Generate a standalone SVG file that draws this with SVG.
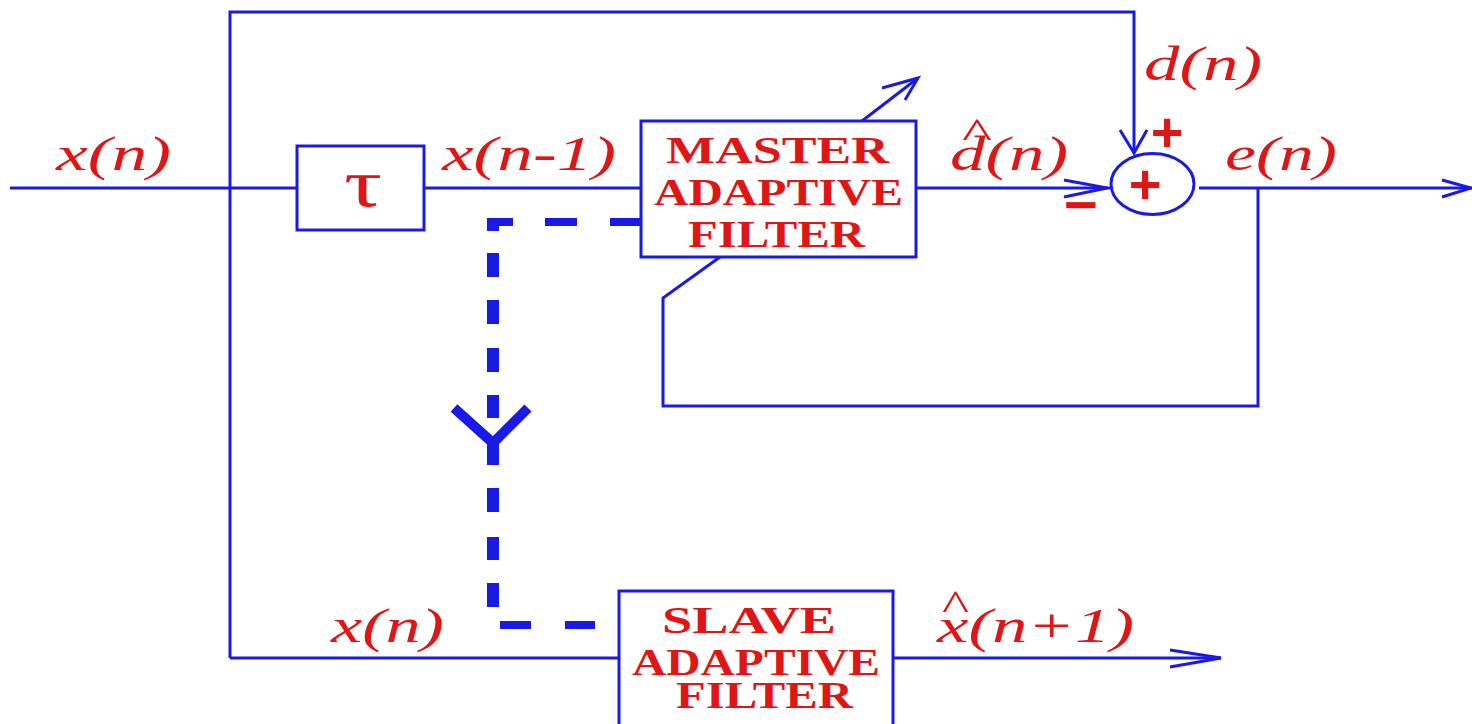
<svg xmlns="http://www.w3.org/2000/svg" width="1472" height="724" viewBox="0 0 1472 724">
<style>
.ln{fill:none;stroke:#1a1ae6;stroke-width:3;stroke-linejoin:miter}
.bx{fill:#fff;stroke:#1a1ae6;stroke-width:3}
.dh{stroke:#1a1ae6;stroke-width:8;fill:none}
.dv{stroke:#1a1ae6;stroke-width:12;fill:none}
.lab{font-family:"Liberation Serif","Times New Roman",serif;font-style:italic;font-size:48px;fill:#e01515}
.hat{font-family:"Liberation Serif","Times New Roman",serif;font-size:44px;fill:#e01515}
.bt{font-family:"Liberation Serif","Times New Roman",serif;font-weight:bold;font-size:37px;fill:#e01515}
.sg{font-family:"Liberation Sans",Arial,sans-serif;font-weight:bold;font-size:56px;fill:#e01515}
</style>
<rect width="1472" height="724" fill="#fff"/>
<g id="connectors">
  <polyline class="ln" points="10,188 297,188"/>
  <polyline class="ln" points="424,188 641,188"/>
  <polyline class="ln" points="230,658 230,12 1134,12 1134,153"/>
  <polyline class="ln" points="1120,130 1134,153 1147,130"/>
  <polyline class="ln" points="230,658 619,658"/>
  <polyline class="ln" points="893,658 1221,658"/>
  <polyline class="ln" points="1170,650 1221,658 1170,667"/>
  <polyline class="ln" points="916,188 1110,188"/>
  <polyline class="ln" points="1064,180 1107,188 1064,197"/>
  <polyline class="ln" points="1199,188 1472,188"/>
  <polyline class="ln" points="1442,180 1471,188 1442,197"/>
  <polyline class="ln" points="1258,188 1258,406 663,406 663,298 720,257"/>
  <polyline class="ln" points="862,121 918,78"/>
  <polyline class="ln" points="882,88 918,78 905,100"/>
  <g id="dashed">
    <line class="dh" x1="610" y1="222" x2="641" y2="222"/>
    <line class="dh" x1="545" y1="222" x2="577" y2="222"/>
    <line class="dh" x1="487" y1="222" x2="513" y2="222"/>
    <line class="dv" x1="493" y1="218" x2="493" y2="231"/>
    <line class="dv" x1="493" y1="253" x2="493" y2="277"/>
    <line class="dv" x1="493" y1="300" x2="493" y2="324"/>
    <line class="dv" x1="493" y1="348" x2="493" y2="372"/>
    <line class="dv" x1="493" y1="395" x2="493" y2="418"/>
    <polyline points="454,408 493,443 528,408" style="fill:none;stroke:#1a1ae6;stroke-width:10"/>
    <line class="dv" x1="493" y1="440" x2="493" y2="465"/>
    <line class="dv" x1="493" y1="488" x2="493" y2="512"/>
    <line class="dv" x1="493" y1="537" x2="493" y2="560"/>
    <line class="dv" x1="493" y1="583" x2="493" y2="607"/>
    <line class="dh" x1="500" y1="625" x2="531" y2="625"/>
    <line class="dh" x1="565" y1="625" x2="595" y2="625"/>
  </g>
</g>
<g id="delay">
  <rect class="bx" x="297" y="146" width="127" height="84"/>
  <text x="344" y="206" style="font-family:'Liberation Serif','Times New Roman',serif;font-size:68px;fill:#e01515" textLength="38" lengthAdjust="spacingAndGlyphs">τ</text>
</g>
<g id="master">
  <rect class="bx" x="641" y="121" width="275" height="136"/>
  <text class="bt" x="666" y="163" textLength="223" lengthAdjust="spacingAndGlyphs">MASTER</text>
  <text class="bt" x="654" y="205" textLength="249" lengthAdjust="spacingAndGlyphs">ADAPTIVE</text>
  <text class="bt" x="688" y="247" textLength="177" lengthAdjust="spacingAndGlyphs">FILTER</text>
</g>
<g id="slave">
  <rect class="bx" x="619" y="591" width="274" height="145"/>
  <text class="bt" x="662" y="633" textLength="174" lengthAdjust="spacingAndGlyphs">SLAVE</text>
  <text class="bt" x="632" y="675" textLength="248" lengthAdjust="spacingAndGlyphs">ADAPTIVE</text>
  <text class="bt" x="676" y="708" textLength="177" lengthAdjust="spacingAndGlyphs">FILTER</text>
</g>
<g id="sum">
  <ellipse cx="1152.5" cy="184" rx="41.5" ry="30.5" style="fill:none;stroke:#1a1ae6;stroke-width:3"/>
  <text class="sg" x="1145" y="203" text-anchor="middle">+</text>
  <text class="sg" x="1167" y="151" text-anchor="middle">+</text>
  <text class="sg" x="1064" y="224" textLength="34" lengthAdjust="spacingAndGlyphs">−</text>
</g>
<g id="labels">
  <text class="lab" x="56" y="170" textLength="115" lengthAdjust="spacingAndGlyphs">x(n)</text>
  <text class="lab" x="442" y="170" textLength="174" lengthAdjust="spacingAndGlyphs">x(n-1)</text>
  <text class="lab" x="1144" y="80" textLength="118" lengthAdjust="spacingAndGlyphs">d(n)</text>
  <text class="lab" x="950" y="170" textLength="118" lengthAdjust="spacingAndGlyphs">d(n)</text>
  <text class="hat" x="962" y="148" textLength="30" lengthAdjust="spacingAndGlyphs">^</text>
  <text class="lab" x="1225" y="170" textLength="112" lengthAdjust="spacingAndGlyphs">e(n)</text>
  <text class="lab" x="331" y="642" textLength="113" lengthAdjust="spacingAndGlyphs">x(n)</text>
  <text class="lab" x="937" y="642" textLength="197" lengthAdjust="spacingAndGlyphs">x(n+1)</text>
  <text class="hat" x="942" y="620" textLength="27" lengthAdjust="spacingAndGlyphs">^</text>
</g>
</svg>
